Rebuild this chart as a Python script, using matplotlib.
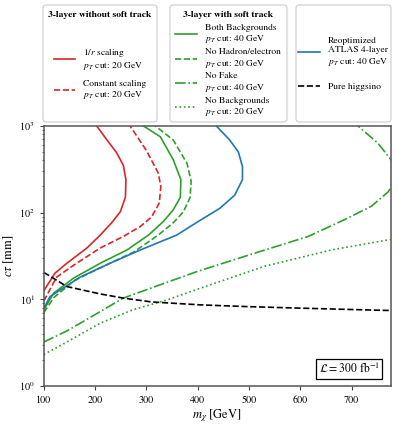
import matplotlib
matplotlib.use("Agg")
import matplotlib.pyplot as plt
from matplotlib.lines import Line2D
from matplotlib.patches import FancyBboxPatch

plt.rcParams["font.family"] = "STIXGeneral"
plt.rcParams["mathtext.fontset"] = "stix"

# curves as (m_chi [GeV], c*tau [mm]) points along each contour
red_solid_m = [100, 122, 145, 184, 210, 232, 249, 259, 260, 255, 242, 223, 203]
red_solid_ct = [12.5, 20, 26, 39, 55, 76, 102, 150, 240, 350, 490, 690, 1000]

red_dash_m = [100, 125, 164, 210, 255, 288, 310, 325, 328, 323, 300, 268]
red_dash_ct = [9.5, 18, 26, 39, 53, 69, 89, 129, 200, 285, 520, 1000]

green_solid_m = [100, 119, 158, 210, 262, 304, 333, 352, 366, 367, 352, 327, 294]
green_solid_ct = [7.5, 11.7, 17.5, 26, 37, 55, 79, 107, 150, 240, 410, 750, 1000]

green_dash_m = [100, 120, 160, 210, 275, 323, 352, 372, 385, 387, 379, 352, 317]
green_dash_ct = [7.0, 10.5, 16.5, 23, 35, 55, 76, 102, 150, 230, 370, 690, 1000]

green_dashdot_m = [100, 145, 210, 255, 320, 400, 511, 615, 686, 738, 771, 790, 776, 751, 712]
green_dashdot_ct = [3.2, 4.3, 7.2, 10.3, 14.2, 21, 34, 53, 83, 118, 174, 270, 410, 630, 1000]

green_dot_m = [100, 145, 210, 275, 340, 405, 530, 660, 776]
green_dot_ct = [2.3, 3.2, 5.3, 7.6, 9.8, 13.4, 24, 37, 49]

blue_m = [100, 112, 171, 229, 288, 359, 401, 443, 472, 487, 487, 479, 462, 436]
blue_ct = [7.8, 10.7, 18, 26, 37, 55, 79, 112, 159, 240, 340, 500, 690, 1000]

higgsino_m = [100, 145, 210, 255, 310, 405, 500, 595, 700, 776]
higgsino_ct = [20.4, 14.0, 11.5, 10.3, 9.3, 8.6, 8.2, 7.9, 7.6, 7.4]

RED = "#d62728"
GREEN = "#2ca02c"
BLUE = "#1f77b4"
LW = 1.2

fig = plt.figure(figsize=(3.98, 4.24), dpi=100)
ax = fig.add_axes([0.11, 0.09, 0.872, 0.613])

ax.plot(red_solid_m, red_solid_ct, color=RED, lw=LW)
ax.plot(red_dash_m, red_dash_ct, color=RED, lw=LW, ls="--")
ax.plot(green_solid_m, green_solid_ct, color=GREEN, lw=LW)
ax.plot(green_dash_m, green_dash_ct, color=GREEN, lw=LW, ls="--")
ax.plot(green_dashdot_m, green_dashdot_ct, color=GREEN, lw=LW, ls="-.")
ax.plot(green_dot_m, green_dot_ct, color=GREEN, lw=LW, ls=":")
ax.plot(blue_m, blue_ct, color=BLUE, lw=LW)
ax.plot(higgsino_m, higgsino_ct, color="black", lw=LW, ls="--")

ax.set_yscale("log")
ax.set_xlim(100, 776)
ax.set_ylim(1, 1000)
ax.set_xticks([100, 200, 300, 400, 500, 600, 700])
ax.set_xlabel(r"$m_\chi$ [GeV]", fontsize=9, labelpad=2)
ax.set_ylabel(r"$c\tau$ [mm]", fontsize=9, labelpad=2)
ax.tick_params(labelsize=7.3, length=3, width=0.8, color="#444444")
ax.tick_params(which="minor", length=1.8, width=0.6, color="#444444")
for sp in ax.spines.values():
    sp.set_color("#555555")
    sp.set_linewidth(1.1)

ax.text(0.968, 0.038, r"$\mathcal{L} = 300$ fb$^{-1}$", transform=ax.transAxes,
        ha="right", va="bottom", fontsize=8.5,
        bbox=dict(boxstyle="square,pad=0.22", fc="white", ec="black", lw=0.9))

# legend boxes above the axes
W, H = 398.0, 424.0


def box(x0, x1, y0, y1):
    p = FancyBboxPatch((x0 / W, 1 - y1 / H), (x1 - x0) / W, (y1 - y0) / H,
                       boxstyle="round,pad=0,rounding_size=0.008",
                       transform=fig.transFigure, fc="white", ec="#cccccc", lw=0.8)
    fig.patches.append(p)


box(43, 157, 5, 122)
box(170, 287, 5, 122)
box(296, 391, 5, 122)

fig.text(100 / W, 1 - 15 / H, "3-layer without soft track", ha="center", va="center",
         fontsize=6.8, fontweight="bold")
fig.text(228 / W, 1 - 15 / H, "3-layer with soft track", ha="center", va="center",
         fontsize=6.8, fontweight="bold")

leg_kw = dict(frameon=False, fontsize=6.8, handlelength=2.3, handletextpad=0.8,
              borderpad=0, borderaxespad=0)

h1 = [Line2D([], [], color=RED, lw=LW), Line2D([], [], color=RED, lw=LW, ls="--")]
l1 = ["1/$r$ scaling\n$p_T$ cut: 20 GeV", "Constant scaling\n$p_T$ cut: 20 GeV"]
fig.legend(h1, l1, loc="center", bbox_to_anchor=(100 / W, 1 - 74 / H),
           labelspacing=0.8, **leg_kw)

h2 = [Line2D([], [], color=GREEN, lw=LW), Line2D([], [], color=GREEN, lw=LW, ls="--"),
      Line2D([], [], color=GREEN, lw=LW, ls="-."), Line2D([], [], color=GREEN, lw=LW, ls=":")]
l2 = ["Both Backgrounds\n$p_T$ cut: 40 GeV", "No Hadron/electron\n$p_T$ cut: 20 GeV",
      "No Fake\n$p_T$ cut: 40 GeV", "No Backgrounds\n$p_T$ cut: 20 GeV"]
fig.legend(h2, l2, loc="center", bbox_to_anchor=(228 / W, 1 - 71 / H),
           labelspacing=0.28, **leg_kw)

h3 = [Line2D([], [], color=BLUE, lw=LW), Line2D([], [], color="black", lw=LW, ls="--")]
l3 = ["Reoptimized\nATLAS 4-layer\n$p_T$ cut: 40 GeV", "Pure higgsino"]
fig.legend(h3, l3, loc="center", bbox_to_anchor=(343 / W, 1 - 64 / H),
           labelspacing=1.6, **leg_kw)

fig.savefig("out.png", dpi=100)
